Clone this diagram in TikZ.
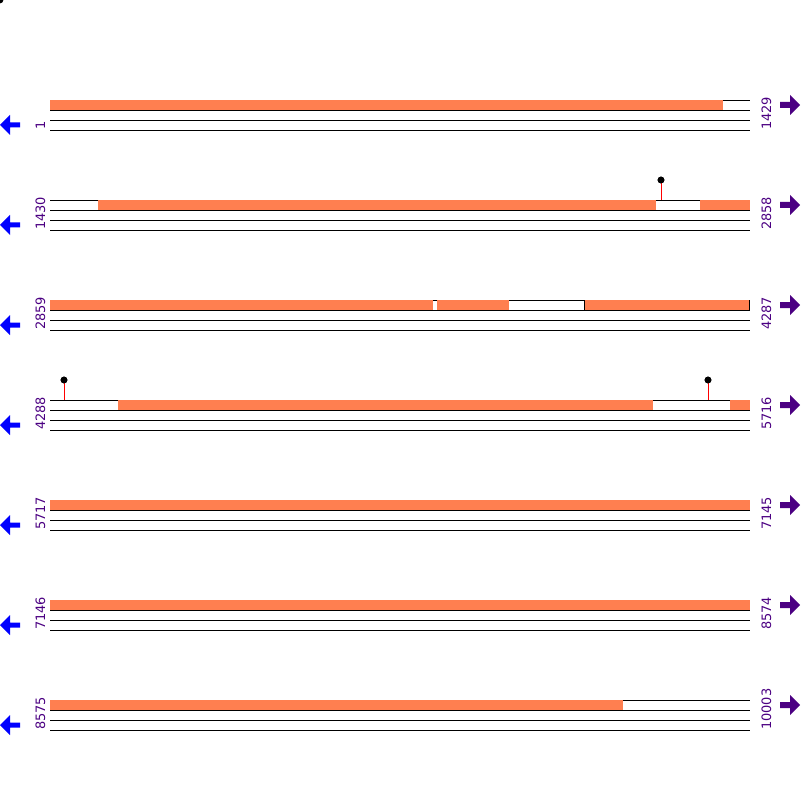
\documentclass[tikz,border=0pt]{standalone}
\usepackage{fontspec}
\setmainfont{DejaVu Sans}
\usetikzlibrary{positioning}
\definecolor{segorange}{RGB}{255,127,80}
\definecolor{numpurple}{RGB}{75,0,130}

\begin{document}
\begin{tikzpicture}[
    x=0.025cm, y=-0.025cm,
    seg/.style={fill=segorange},
    track/.style={line width=0.7pt},
    num/.style={rotate=90, anchor=base west, inner sep=0pt, text=numpurple, font=\fontsize{9.2}{11}\selectfont},
    stem/.style={red, line width=0.7pt},
    knob/.style={circle, fill=black, inner sep=0pt, minimum size=0.17cm},
]
\useasboundingbox (0,0) rectangle (800,800);
\node[knob] (corner) at (0,0) {};

% tracks, end labels and strand arrows of each row
\foreach \y/\lo/\hi in {100/1/1429, 200/1430/2858, 300/2859/4287, 400/4288/5716,
                        500/5717/7145, 600/7146/8574, 700/8575/10003} {
    \foreach \d in {0,10,20,30}
        \draw[track] (50,\y+\d) -- (750,\y+\d);
    \node[num] (lo\y) at (45,\y+30) {\lo};
    \node[num] (hi\y) at (771,\y+30) {\hi};
    \fill[blue] (0,\y+25) -- (10,\y+15) -- (10,\y+22.5) -- (20,\y+22.5)
        -- (20,\y+27.5) -- (10,\y+27.5) -- (10,\y+35) -- cycle;
    \fill[numpurple] (800,\y+5) -- (790,\y-5) -- (790,\y+2) -- (780,\y+2)
        -- (780,\y+8) -- (790,\y+8) -- (790,\y+15) -- cycle;
}

% row 1
\fill[seg] (50,100) rectangle (723,110);

% row 2
\fill[seg] (98,200) rectangle (656,210);
\fill[seg] (700,200) rectangle (750,210);
\coordinate (foot2) at (661,200);
\node[knob] (pin2) at (661,180) {};
\draw[stem] (foot2) -- (pin2.center);
\node[knob] at (pin2) {};

% row 3
\fill[seg] (50,300) rectangle (433,310);
\fill[seg] (437,300) rectangle (509,310);
\fill[seg] (584,300) rectangle (748.5,310);
\draw[track] (584,300) -- (584,310);
\draw[track] (749.3,300) -- (749.3,310);

% row 4
\fill[seg] (118,400) rectangle (653,410);
\fill[seg] (730,400) rectangle (750,410);
\coordinate (foot4a) at (64,400);
\node[knob] (pin4a) at (64,380) {};
\draw[stem] (foot4a) -- (pin4a.center);
\node[knob] at (pin4a) {};
\coordinate (foot4b) at (708,400);
\node[knob] (pin4b) at (708,380) {};
\draw[stem] (foot4b) -- (pin4b.center);
\node[knob] at (pin4b) {};

% rows 5 and 6
\fill[seg] (50,500) rectangle (750,510);
\fill[seg] (50,600) rectangle (750,610);

% row 7
\fill[seg] (50,700) rectangle (623,710);
\end{tikzpicture}
\end{document}
